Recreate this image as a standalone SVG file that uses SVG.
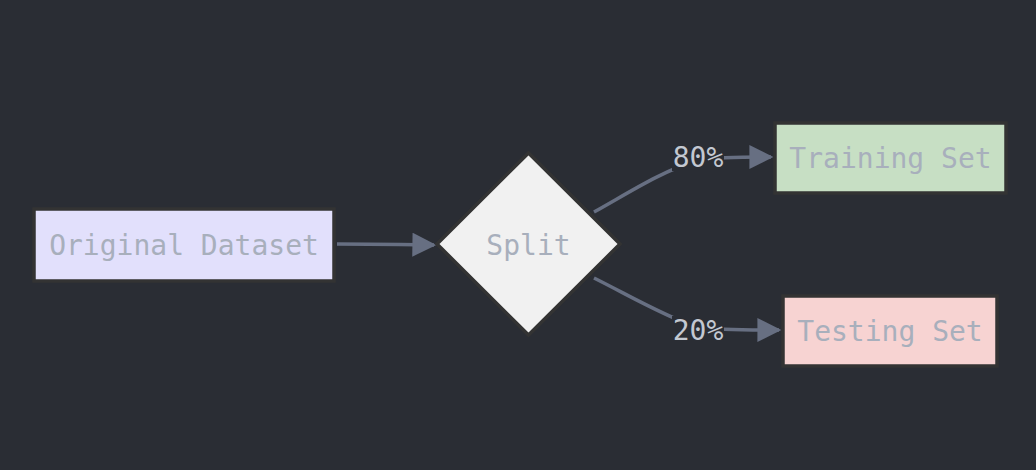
<svg xmlns="http://www.w3.org/2000/svg" width="1036" height="470" viewBox="0 0 1036 470">
<style>
.node{stroke:#333333;stroke-width:3.5}
.lbl{font-family:"DejaVu Sans Mono","Liberation Mono",monospace;font-size:28px;fill:#a8afbc;text-anchor:middle;dominant-baseline:central}
.elbl{font-family:"DejaVu Sans Mono","Liberation Mono",monospace;font-size:28px;fill:#c3c8d1;text-anchor:middle;dominant-baseline:central}
.edge{fill:none;stroke:#676f82;stroke-width:3.5}
.lblbg{fill:#2a2d34}
</style>
<defs>
<marker id="arr" viewBox="0 0 10 10" refX="9" refY="5" markerUnits="userSpaceOnUse" markerWidth="26" markerHeight="24" orient="auto">
<path d="M0,0 L10,5 L0,10 z" fill="#676f82"/>
</marker>
</defs>
<rect width="1036" height="470" fill="#2a2d34"/>
<g id="edges">
<path class="edge" d="M337,244 L400,244.5 L434,245" marker-end="url(#arr)"/>
<path class="edge" d="M594,212 C630,192 660,172 698,160 C720,157 745,157 771,157" marker-end="url(#arr)"/>
<path class="edge" d="M594,278 C630,296 660,314 698,328 C720,330 745,330 779,330" marker-end="url(#arr)"/>
<rect class="lblbg" x="672" y="143" width="52" height="28"/>
<rect class="lblbg" x="672" y="316" width="52" height="28"/>
<text class="elbl" x="698" y="157">80%</text>
<text class="elbl" x="698" y="330">20%</text>
</g>
<g id="original">
<rect class="node" x="34" y="209" width="300" height="72" fill="#e2e0fc"/>
<text class="lbl" x="184" y="245">Original Dataset</text>
</g>
<g id="split">
<polygon class="node" points="528.5,153 620,244 528.5,335 437,244" fill="#f1f1f1"/>
<text class="lbl" x="528.5" y="245">Split</text>
</g>
<g id="training">
<rect class="node" x="775" y="123" width="231" height="70" fill="#c7dfc4"/>
<text class="lbl" x="890.5" y="158">Training Set</text>
</g>
<g id="testing">
<rect class="node" x="783" y="296" width="214" height="70" fill="#f7d3d2"/>
<text class="lbl" x="890" y="331">Testing Set</text>
</g>
</svg>
